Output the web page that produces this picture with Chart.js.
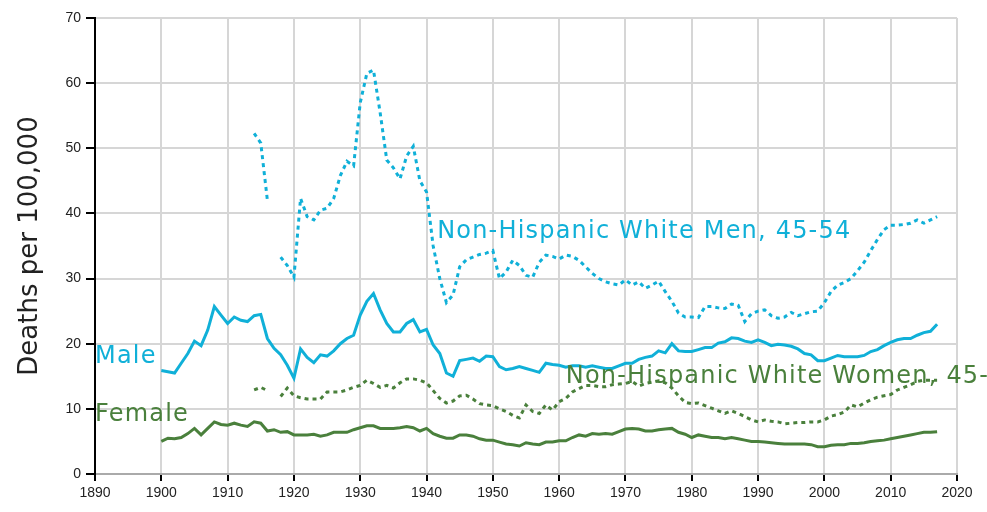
<!DOCTYPE html>
<html>
<head>
<meta charset="utf-8">
<script src="https://cdn.jsdelivr.net/npm/chart.js@4.4.1/dist/chart.umd.min.js"></script>
<style>
  html, body { margin: 0; padding: 0; background: #fff; }
  #wrap { width: 987px; height: 512px; position: relative; }
</style>
</head>
<body>
<div id="wrap"><canvas id="chartCanvas"></canvas></div>
<script>
// all-ages series, one value per year from 1900
const firstYear = 1900;
const maleRates = [
  15.9, 15.7, 15.5, 17.0, 18.5, 20.4, 19.7, 22.1, 25.7, 24.4,
  23.1, 24.1, 23.6, 23.4, 24.3, 24.5, 20.8, 19.3, 18.3, 16.7,
  14.7, 19.2, 17.9, 17.1, 18.3, 18.1, 18.9, 20.0, 20.8, 21.3,
  24.4, 26.5, 27.7, 25.2, 23.1, 21.8, 21.8, 23.1, 23.7, 21.8,
  22.2, 19.8, 18.5, 15.5, 15.0, 17.4, 17.6, 17.8, 17.3, 18.1,
  18.0, 16.5, 16.0, 16.2, 16.5, 16.2, 15.9, 15.6, 17.0, 16.8,
  16.7, 16.4, 16.6, 16.6, 16.4, 16.6, 16.4, 16.2, 16.2, 16.6,
  17.0, 17.0, 17.6, 17.9, 18.1, 18.9, 18.6, 20.0, 18.9, 18.8,
  18.8, 19.1, 19.4, 19.4, 20.1, 20.3, 20.9, 20.8, 20.4, 20.2,
  20.6, 20.2, 19.7, 19.9, 19.8, 19.6, 19.2, 18.5, 18.3, 17.4,
  17.4, 17.8, 18.2, 18.0, 18.0, 18.0, 18.2, 18.8, 19.1, 19.7,
  20.2, 20.6, 20.8, 20.8, 21.3, 21.7, 21.9, 23.0
];
const femaleRates = [
  5.0, 5.5, 5.4, 5.6, 6.2, 7.0, 6.0, 7.0, 8.0, 7.6,
  7.5, 7.8, 7.5, 7.3, 8.0, 7.8, 6.6, 6.8, 6.4, 6.5,
  6.0, 6.0, 6.0, 6.1, 5.8, 6.0, 6.4, 6.4, 6.4, 6.8,
  7.1, 7.4, 7.4, 7.0, 7.0, 7.0, 7.1, 7.3, 7.1, 6.6,
  7.0, 6.2, 5.8, 5.5, 5.5, 6.0, 6.0, 5.8, 5.4, 5.2,
  5.2, 4.9, 4.6, 4.5, 4.3, 4.8, 4.6, 4.5, 4.9, 4.9,
  5.1, 5.1, 5.6, 6.0, 5.8, 6.2, 6.1, 6.2, 6.1, 6.5,
  6.9, 7.0, 6.9, 6.6, 6.6, 6.8, 6.9, 7.0, 6.4, 6.1,
  5.6, 6.0, 5.8, 5.6, 5.6, 5.4, 5.6, 5.4, 5.2, 5.0,
  5.0, 4.9, 4.8, 4.7, 4.6, 4.6, 4.6, 4.6, 4.5, 4.2,
  4.2, 4.4, 4.5, 4.5, 4.7, 4.7, 4.8, 5.0, 5.1, 5.2,
  5.4, 5.6, 5.8, 6.0, 6.2, 6.4, 6.4, 6.5
];

// non-hispanic white, ages 45-54, one value per year from 1914 (1917 missing)
const nhwFirstYear = 1914;
const nhwMenRates = [
  52.3, 50.8, 42.0, null, 33.3, 32.0,
  30.2, 42.3, 39.5, 39.0, 40.5, 40.8, 42.3, 45.8, 48.0, 47.3,
  57.0, 61.5, 62.0, 55.5, 48.2, 47.0, 45.3, 48.8, 50.3, 45.0,
  43.3, 35.0, 30.0, 26.3, 27.5, 31.8, 32.9, 33.3, 33.7, 33.9,
  34.3, 30.0, 31.0, 32.8, 32.0, 30.5, 30.2, 32.5, 33.6, 33.4,
  33.0, 33.6, 33.4, 32.8, 31.8, 30.8, 30.0, 29.5, 29.2, 29.0,
  29.8, 29.0, 29.5, 28.5, 29.0, 29.6, 28.0, 26.5, 24.7, 24.1,
  24.1, 24.0, 25.7, 25.7, 25.5, 25.4, 26.1, 25.9, 23.4, 24.6,
  25.0, 25.2, 24.3, 23.9, 24.1, 24.8, 24.3, 24.6, 24.9, 25.0,
  26.3, 28.0, 29.0, 29.4, 30.0, 31.2, 32.5, 34.3, 36.0, 37.5,
  38.2, 38.2, 38.3, 38.5, 39.0, 38.5, 39.0, 39.5
];
const nhwWomenRates = [
  12.9, 13.3, 12.8, null, 11.9, 13.2,
  12.0, 11.7, 11.5, 11.5, 11.5, 12.6, 12.6, 12.6, 12.9, 13.3,
  13.6, 14.4, 13.9, 13.3, 13.6, 13.2, 14.0, 14.6, 14.6, 14.4,
  14.0, 12.8, 11.6, 10.9, 11.2, 12.0, 12.1, 11.5, 10.8, 10.6,
  10.5, 10.0, 9.6, 9.0, 8.6, 10.6, 9.6, 9.3, 10.6, 9.8,
  11.1, 11.6, 12.6, 13.1, 13.6, 13.6, 13.4, 13.4, 13.7, 13.8,
  13.9, 14.2, 13.5, 13.9, 14.1, 14.3, 14.0, 13.2, 12.0, 11.0,
  10.8, 10.9, 10.5, 10.1, 9.7, 9.3, 9.7, 9.3, 8.8, 8.3,
  8.0, 8.3, 8.1, 8.0, 7.7, 7.8, 7.9, 7.9, 8.0, 8.0,
  8.3, 8.9, 9.1, 9.5, 10.6, 10.3, 10.9, 11.4, 11.8, 12.0,
  12.2, 12.9, 13.3, 13.7, 14.2, 14.4, 14.4, 14.4
];

const seriesNames = ["Male", "Female", "Non-Hispanic White Men, 45-54", "Non-Hispanic White Women, 45-54"];

const CYAN = "#10b0d8";
const GREEN = "#4a803c";
const LABEL_FONT = "'DejaVu Sans', sans-serif";

function toPoints(start, values) {
  return values.map((v, i) => ({ x: start + i, y: v }));
}

// text labels placed on the chart, in data units
const lineLabels = [
  { text: "Male", x: 1890, y: 18.0, color: CYAN },
  { text: "Female", x: 1890, y: 9.1, color: GREEN },
  { text: "Non-Hispanic White Men, 45-54", x: 1941.6, y: 37.2, color: CYAN },
  { text: "Non-Hispanic White Women, 45-54", x: 1961.0, y: 15.0, color: GREEN },
];

const labelPlugin = {
  id: "lineLabels",
  afterDatasetsDraw(chart) {
    const ctx = chart.ctx;
    const xs = chart.scales.x, ys = chart.scales.y;
    ctx.save();
    ctx.font = "24px " + LABEL_FONT;
    ctx.letterSpacing = "1.2px";
    ctx.textBaseline = "middle";
    ctx.textAlign = "left";
    lineLabels.forEach((l) => {
      ctx.fillStyle = l.color;
      ctx.fillText(l.text, xs.getPixelForValue(l.x), ys.getPixelForValue(l.y));
    });
    ctx.restore();
  },
};

const ctx = document.getElementById("chartCanvas").getContext("2d");

new Chart(ctx, {
  type: "line",
  data: {
    datasets: [
      {
        label: seriesNames[0],
        data: toPoints(firstYear, maleRates),
        borderColor: CYAN,
        borderWidth: 3,
      },
      {
        label: seriesNames[1],
        data: toPoints(firstYear, femaleRates),
        borderColor: GREEN,
        borderWidth: 3,
      },
      {
        label: seriesNames[2],
        data: toPoints(nhwFirstYear, nhwMenRates),
        borderColor: CYAN,
        borderWidth: 3,
        borderDash: [4, 4],
      },
      {
        label: seriesNames[3],
        data: toPoints(nhwFirstYear, nhwWomenRates),
        borderColor: GREEN,
        borderWidth: 3,
        borderDash: [4, 4],
      },
    ],
  },
  options: {
    responsive: true,
    maintainAspectRatio: false,
    animation: false,
    spanGaps: false,
    elements: {
      point: { radius: 0, hoverRadius: 0 },
      line: { tension: 0, fill: false },
    },
    layout: { padding: { top: 18, right: 30, left: 0, bottom: 0 } },
    scales: {
      x: {
        type: "linear",
        min: 1890,
        max: 2020,
        afterFit: (s) => { s.height = 38; },
        ticks: {
          stepSize: 10,
          padding: 4,
          color: "#222",
          font: { family: "'Liberation Sans', Arial, sans-serif", size: 14 },
          callback: (v) => String(v),
        },
        grid: { color: "#d6d6d6", lineWidth: 2, tickColor: "#000", tickLength: 7, tickWidth: 2 },
        border: { color: "#aaaaaa", width: 2 },
      },
      y: {
        min: 0,
        max: 70,
        afterFit: (s) => { s.width = 95; },
        ticks: {
          stepSize: 10,
          padding: 5,
          color: "#222",
          font: { family: "'Liberation Sans', Arial, sans-serif", size: 14 },
        },
        grid: { color: "#d6d6d6", lineWidth: 2, tickColor: "#000", tickLength: 9, tickWidth: 2 },
        border: { color: "#000", width: 2 },
        title: {
          display: true,
          text: "Deaths per 100,000",
          color: "#222",
          font: { family: LABEL_FONT, size: 26, lineHeight: 1.2 },
          padding: { top: 15, bottom: 0 },
        },
      },
    },
    plugins: {
      legend: { display: false },
      tooltip: { enabled: false },
    },
  },
  plugins: [labelPlugin],
});
</script>
</body>
</html>
